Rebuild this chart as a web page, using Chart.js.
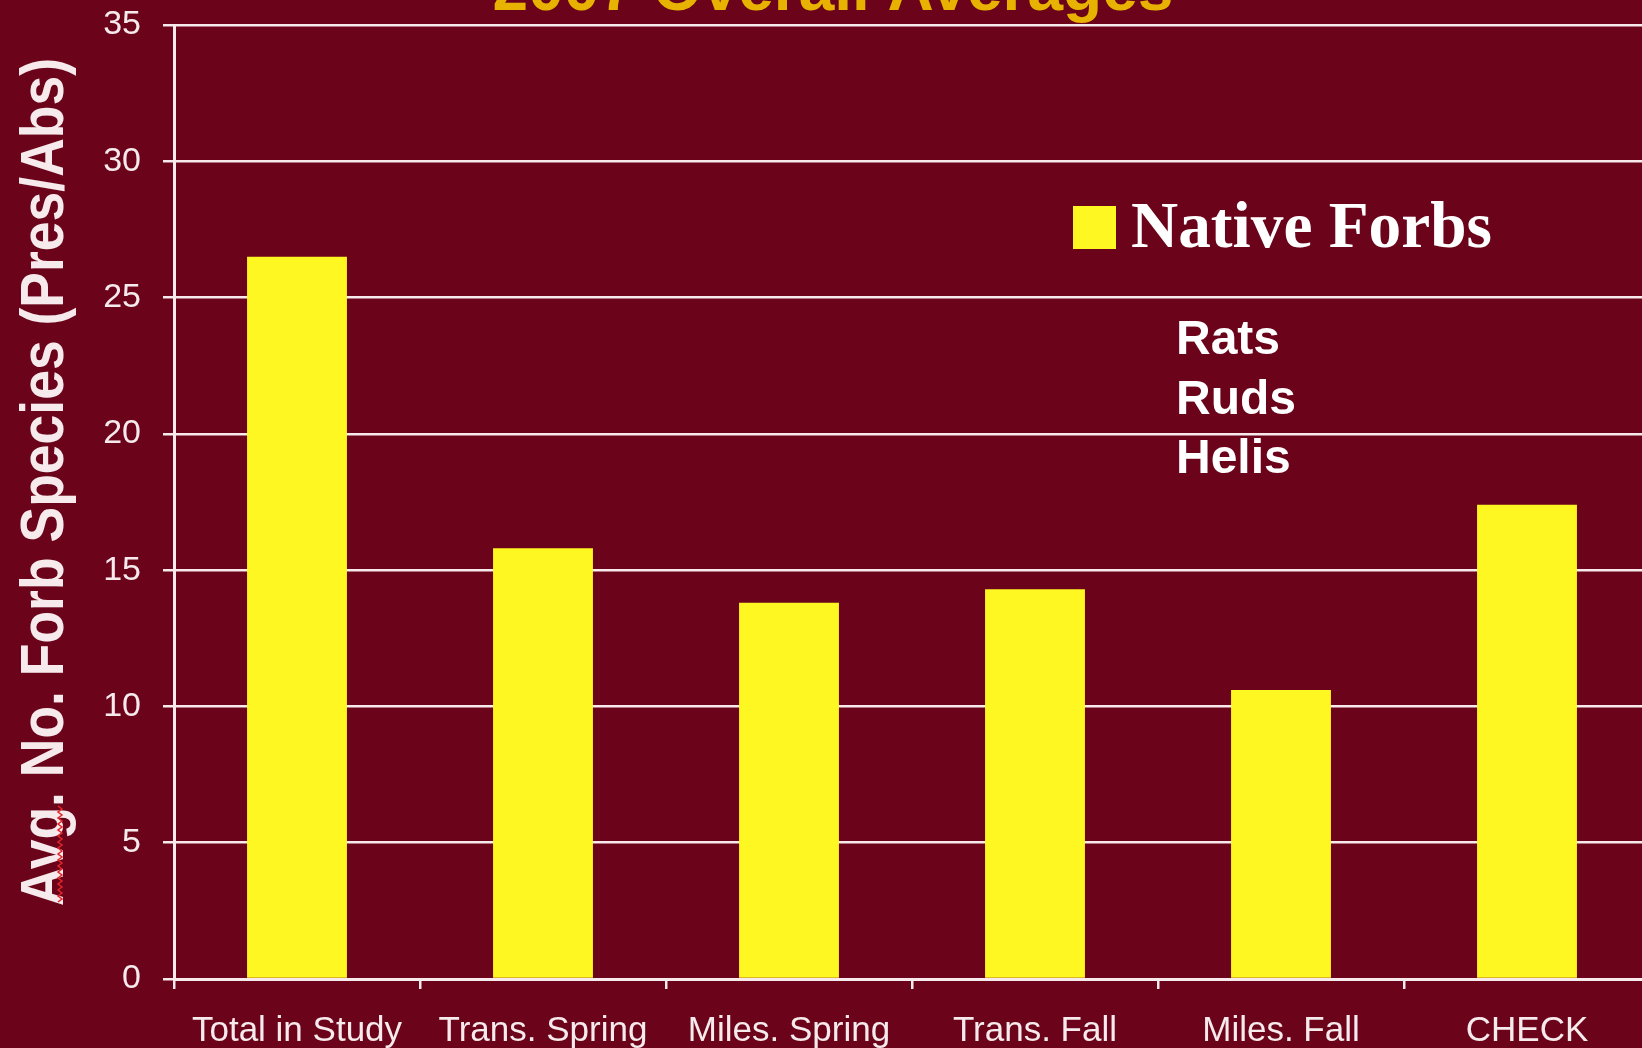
<!DOCTYPE html>
<html lang="en">
<head>
  <meta charset="UTF-8">
  <title>2007 Overall Averages</title>
  <script src="https://cdn.jsdelivr.net/npm/chart.js"></script>
  <style>
    html, body { margin: 0; padding: 0; overflow: hidden; background: #6b041a; }
    .wrap { width: 1662px; height: 1048px; }
  </style>
</head>
<body>
  <div class="wrap"><canvas id="forbs-chart"></canvas></div>
  <script>
    const categories = ['Total in Study', 'Trans. Spring', 'Miles. Spring', 'Trans. Fall', 'Miles. Fall', 'CHECK'];
    const nativeForbs = [26.5, 15.8, 13.8, 14.3, 10.6, 17.4];
    const yTicks = [0, 5, 10, 15, 20, 25, 30, 35];
    const notes = ['Rats', 'Ruds', 'Helis'];

    const WHITE = '#f6eaec';
    const YELLOW = '#fff721';

    // titles, legend and the side notes, drawn straight on the canvas
    const decor = {
      id: 'decor',
      afterDraw(chart) {
        const ctx = chart.ctx;
        ctx.save();

        // chart title, mostly cut off above the top edge
        ctx.fillStyle = '#e8b200';
        ctx.font = 'bold 64px "Liberation Sans", Arial, sans-serif';
        ctx.textAlign = 'center';
        ctx.textBaseline = 'alphabetic';
        ctx.fillText('2007 Overall Averages', 833, 10);

        // y axis title, narrow bold
        const yTitle = 'Avg. No. Forb Species (Pres/Abs)';
        ctx.save();
        ctx.translate(63, 482);
        ctx.rotate(-Math.PI / 2);
        ctx.font = 'bold 61px "Liberation Sans", Arial, sans-serif';
        const sx = 848 / ctx.measureText(yTitle).width;
        ctx.scale(sx, 1);
        ctx.fillStyle = WHITE;
        ctx.textAlign = 'center';
        ctx.fillText(yTitle, 0, 0);
        ctx.restore();

        // red spell-check squiggle under "Avg"
        ctx.strokeStyle = '#e0262a';
        ctx.lineWidth = 1.5;
        ctx.beginPath();
        for (let y = 806, i = 0; y <= 903; y += 3, i++) {
          const x = i % 2 ? 62 : 58;
          if (i === 0) ctx.moveTo(x, y); else ctx.lineTo(x, y);
        }
        ctx.stroke();

        // legend
        const ds = chart.data.datasets[0];
        ctx.fillStyle = ds.backgroundColor;
        ctx.fillRect(1073, 206, 43, 43);
        ctx.fillStyle = '#ffffff';
        ctx.font = 'bold 66px "Liberation Serif", "Times New Roman", serif';
        ctx.textAlign = 'left';
        ctx.save();
        ctx.translate(1131, 247);
        ctx.scale(361 / ctx.measureText(ds.label).width, 1);
        ctx.fillText(ds.label, 0, 0);
        ctx.restore();

        // side notes
        ctx.font = 'bold 48px "Liberation Sans", Arial, sans-serif';
        notes.forEach((t, i) => ctx.fillText(t, 1176, 354 + i * 59.5));

        ctx.restore();
      }
    };

    const ctx = document.getElementById('forbs-chart').getContext('2d');
    window.forbsChart = new Chart(ctx, {
      type: 'bar',
      data: {
        labels: categories,
        datasets: [{
          label: 'Native Forbs',
          data: nativeForbs,
          backgroundColor: YELLOW,
          borderWidth: 0,
          barPercentage: 1,
          categoryPercentage: 0.406
        }]
      },
      options: {
        responsive: true,
        maintainAspectRatio: false,
        animation: false,
        layout: { padding: { top: 25, right: 12, left: 0, bottom: 0 } },
        plugins: {
          legend: { display: false },
          tooltip: { enabled: false }
        },
        scales: {
          x: {
            grid: {
              display: true,
              offset: true,
              drawOnChartArea: false,
              drawTicks: true,
              tickLength: 10,
              color: WHITE,
              lineWidth: 2.5
            },
            border: { display: true, color: WHITE, width: 3 },
            ticks: {
              color: WHITE,
              padding: 21,
              font: { family: '"Liberation Sans", Arial, sans-serif', size: 35 }
            },
            afterFit(scale) { scale.height = 69; }
          },
          y: {
            min: 0,
            max: 35,
            afterBuildTicks(scale) { scale.ticks = yTicks.map(v => ({ value: v })); },
            grid: {
              color: WHITE,
              lineWidth: 2.5,
              drawTicks: true,
              tickLength: 11
            },
            border: { display: true, color: WHITE, width: 3 },
            ticks: {
              color: WHITE,
              padding: 22,
              font: { family: '"Liberation Sans", Arial, sans-serif', size: 34 }
            },
            afterFit(scale) {
              scale.width = 174;
              scale.paddingTop = 0;
              scale.paddingBottom = 0;
            }
          }
        }
      },
      plugins: [decor]
    });
  </script>
</body>
</html>
